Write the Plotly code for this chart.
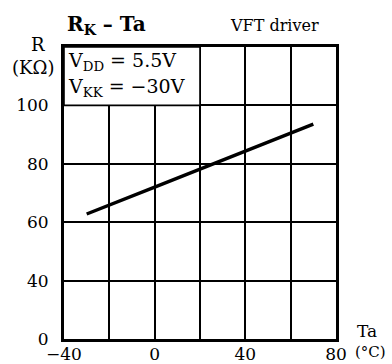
import plotly.graph_objects as go

# R_K versus ambient temperature (VFT driver), V_DD = 5.5 V, V_KK = -30 V
ta = [-30, -20, 0, 20, 40, 60, 70]
r_k = [62.8, 65.8, 72.0, 78.2, 84.4, 90.6, 93.6]

x_ticks = [-40, -20, 0, 20, 40, 60, 80]
x_labels = ["\u221240", "", "0", "", "40", "", "80"]
# broken axis: the lowest grid line carries the 0 label
y_ticks = [20, 40, 60, 80, 100, 120]
y_labels = ["0", "40", "60", "80", "100", ""]

FONT = "DejaVu Serif"

fig = go.Figure()
fig.add_trace(go.Scatter(
    x=ta, y=r_k, mode="lines",
    line=dict(color="black", width=3.4),
    hoverinfo="skip", showlegend=False,
))

axis_common = dict(
    showgrid=True, gridcolor="black", gridwidth=1.6,
    showline=True, linecolor="black", linewidth=3, mirror=True,
    zeroline=False, ticks="", tickfont=dict(family=FONT, size=17, color="black"),
    fixedrange=True, automargin=False,
)
fig.update_xaxes(range=[-40, 80], tickmode="array", tickvals=x_ticks, ticktext=x_labels,
                 ticklabelstandoff=-2, **axis_common)
fig.update_yaxes(range=[20, 120], tickmode="array", tickvals=y_ticks, ticktext=y_labels,
                 ticklabelstandoff=9, **axis_common)

# condition box in the upper-left cell block
fig.add_shape(type="rect", xref="x", yref="y", x0=-40, x1=20, y0=100, y1=120,
              fillcolor="white", line=dict(color="black", width=1.6), layer="between")

def note(text, x, y, size, xanchor="center"):
    fig.add_annotation(text=text, xref="paper", yref="paper", x=x, y=y,
                       xanchor=xanchor, yanchor="middle", showarrow=False,
                       borderpad=0,
                       font=dict(family=FONT, size=size, color="black"))

note("<b>R<sub>K</sub> \u2013 Ta</b>", 0.006, 1.075, 20, "left")
note("VFT driver", 0.608, 1.075, 16, "left")
note("R", -0.096, 1.007, 18)
note("(K\u03a9)", -0.114, 0.930, 18)
note("V<sub>DD</sub> = 5.5V", 0.012, 0.949, 19, "left")
note("V<sub>KK</sub> = \u221230V", 0.012, 0.863, 19, "left")
note("Ta", 1.114, 0.028, 17)
note("(\u00b0C)", 1.127, -0.046, 15)

fig.update_layout(
    width=392, height=364,
    margin=dict(l=64, r=56, t=47, b=25),
    paper_bgcolor="white", plot_bgcolor="white",
    showlegend=False,
)

fig.write_html("out.html", config={"displayModeBar": False})
